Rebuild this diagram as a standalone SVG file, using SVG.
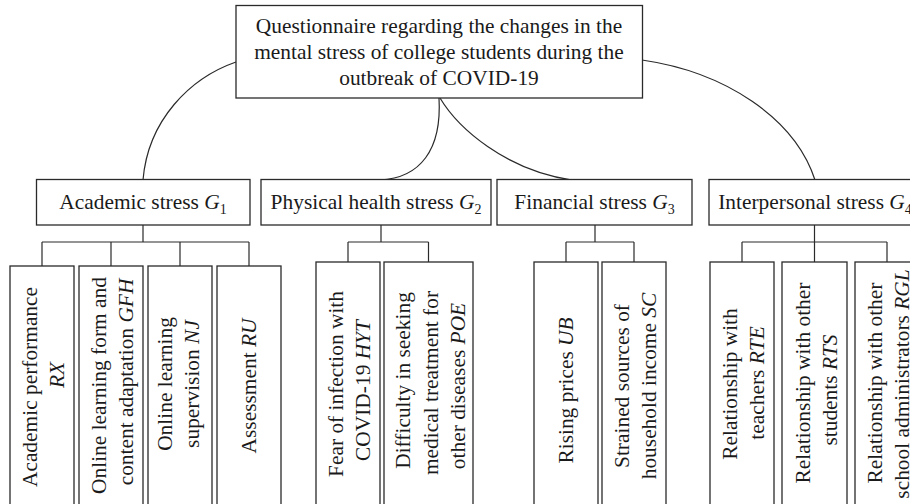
<svg xmlns="http://www.w3.org/2000/svg" width="910" height="504" viewBox="0 0 910 504">
<style>
.box{fill:#fff;stroke:#2a2a2a;stroke-width:1.3}
.ln{fill:none;stroke:#2a2a2a;stroke-width:1.2}
text{font-family:"Liberation Serif","Times New Roman",serif;font-size:21.4px;fill:#1a1a1a}
.c{text-anchor:middle}
.i{font-style:italic}
.sub{font-size:14px}
</style>
<rect width="910" height="504" fill="#fff"/>
<g id="connectors">
<path class="ln" d="M236,62 C190,78 148,120 143,180"/>
<path class="ln" d="M439,98 C442,150 420,178 380,180"/>
<path class="ln" d="M440,98 C458,128 505,170 572,180"/>
<path class="ln" d="M642,60 C725,72 795,118 815,180"/>
<path class="ln" d="M143,225 V242 M42,242 H249 M42,242 V266 M111,242 V266 M180,242 V266 M249,242 V266"/>
<path class="ln" d="M381,225 V242 M348,242 H428.5 M348,242 V262 M428.5,242 V262"/>
<path class="ln" d="M595,225 V242 M566,242 H634 M566,242 V262 M634,242 V262"/>
<path class="ln" d="M814.5,225 V242 M742,242 H887 M742,242 V262 M814.5,242 V262 M887,242 V262"/>
</g>
<g id="root">
<rect class="box" x="236" y="5.5" width="406.5" height="92.5"/>
<text class="c" x="439" y="32.5">Questionnaire regarding the changes in the</text>
<text class="c" x="439" y="58.5">mental stress of college students during the</text>
<text class="c" x="439" y="84.5">outbreak of COVID-19</text>
</g>
<g id="g1">
<rect class="box" x="36.5" y="179.5" width="213.5" height="45.5"/>
<text class="c" x="143" y="208.5">Academic stress <tspan class="i">G</tspan><tspan class="sub" dy="5">1</tspan></text>
</g>
<g id="g2">
<rect class="box" x="261" y="179.5" width="230" height="45.5"/>
<text class="c" x="376" y="208.5">Physical health stress <tspan class="i">G</tspan><tspan class="sub" dy="5">2</tspan></text>
</g>
<g id="g3">
<rect class="box" x="497" y="179.5" width="195" height="45.5"/>
<text class="c" x="594.5" y="208.5">Financial stress <tspan class="i">G</tspan><tspan class="sub" dy="5">3</tspan></text>
</g>
<g id="g4">
<rect class="box" x="709" y="179.5" width="212" height="45.5"/>
<text class="c" x="815" y="208.5">Interpersonal stress <tspan class="i">G</tspan><tspan class="sub" dy="5">4</tspan></text>
</g>
<g id="rx">
<rect class="box" x="10" y="266" width="64" height="260"/>
<text class="c" transform="translate(37,387) rotate(-90)">Academic performance</text>
<text class="c i" transform="translate(64,375) rotate(-90)">RX</text>
</g>
<g id="gfh">
<rect class="box" x="79" y="266" width="64" height="260"/>
<text class="c" transform="translate(106,385.5) rotate(-90)">Online learning form and</text>
<text class="c" transform="translate(133,382) rotate(-90)">content adaptation <tspan class="i">GFH</tspan></text>
</g>
<g id="nj">
<rect class="box" x="148" y="266" width="64" height="260"/>
<text class="c" transform="translate(172,384) rotate(-90)">Online learning</text>
<text class="c" transform="translate(199,384) rotate(-90)">supervision <tspan class="i">NJ</tspan></text>
</g>
<g id="ru">
<rect class="box" x="217" y="266" width="64" height="260"/>
<text class="c" transform="translate(256,386) rotate(-90)">Assessment <tspan class="i">RU</tspan></text>
</g>
<g id="hyt">
<rect class="box" x="316" y="262" width="64" height="260"/>
<text class="c" transform="translate(342.5,384) rotate(-90)">Fear of infection with</text>
<text class="c" transform="translate(370,390.5) rotate(-90)">COVID-19 <tspan class="i">HYT</tspan></text>
</g>
<g id="poe">
<rect class="box" x="384" y="262" width="89" height="260"/>
<text class="c" transform="translate(410,380.5) rotate(-90)">Difficulty in seeking</text>
<text class="c" transform="translate(437.5,383) rotate(-90)">medical treatment for</text>
<text class="c" transform="translate(464.5,386) rotate(-90)">other diseases <tspan class="i">POE</tspan></text>
</g>
<g id="ub">
<rect class="box" x="534" y="262" width="64" height="260"/>
<text class="c" transform="translate(573,390.5) rotate(-90)">Rising prices <tspan class="i">UB</tspan></text>
</g>
<g id="sc">
<rect class="box" x="602" y="262" width="64" height="260"/>
<text class="c" transform="translate(629,386) rotate(-90)">Strained sources of</text>
<text class="c" transform="translate(656,386) rotate(-90)">household income <tspan class="i">SC</tspan></text>
</g>
<g id="rte">
<rect class="box" x="710" y="262" width="64" height="260"/>
<text class="c" transform="translate(737,384) rotate(-90)">Relationship with</text>
<text class="c" transform="translate(764,383) rotate(-90)">teachers <tspan class="i">RTE</tspan></text>
</g>
<g id="rts">
<rect class="box" x="782" y="262" width="65" height="260"/>
<text class="c" transform="translate(809.5,383) rotate(-90)">Relationship with other</text>
<text class="c" transform="translate(836.5,390) rotate(-90)">students <tspan class="i">RTS</tspan></text>
</g>
<g id="rgl">
<rect class="box" x="855" y="262" width="64" height="260"/>
<text class="c" transform="translate(882,383) rotate(-90)">Relationship with other</text>
<text class="c" transform="translate(909,384) rotate(-90)">school administrators <tspan class="i">RGL</tspan></text>
</g>
</svg>
